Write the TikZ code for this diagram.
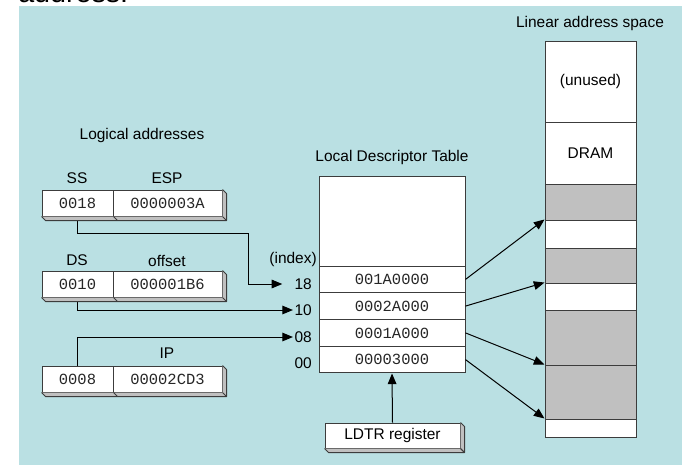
\documentclass[tikz,border=0pt]{standalone}
\usepackage{fontspec}
\setmainfont{Liberation Sans}
\newfontfamily\monofont{Liberation Mono}
\usetikzlibrary{arrows.meta}
\definecolor{bgblue}{RGB}{186,224,227}
\definecolor{segfill}{RGB}{192,192,192}
\definecolor{edgec}{RGB}{60,60,60}
\pgfdeclarelayer{bglayer}
\pgfdeclarelayer{wires}
\pgfsetlayers{bglayer,wires,main}
\newcommand\bevelbox[2]{%
  \fill[segfill] (#1.south west) -- ([shift={(4,4)}]#1.south west) -- ([shift={(4,4)}]#2.south east) -- ([shift={(4,4)}]#2.north east) -- (#2.north east) -- (#2.south east) -- cycle;
  \draw[edgec, line width=0.75pt, line join=round] (#1.south west) -- ([shift={(4,4)}]#1.south west) -- ([shift={(4,4)}]#2.south east) -- ([shift={(4,4)}]#2.north east) -- (#2.north east);
  \draw[edgec, line width=0.6pt] ([shift={(4,4)}]#2.south east) -- (#2.south east);
  \draw[edgec, line width=0.6pt] (#1.south east) -- ([shift={(4,4)}]#1.south east);
}
\begin{document}
\begin{tikzpicture}[x=0.75pt,y=-0.75pt,
  font=\fontsize{11.6}{13}\selectfont,
  cell/.style={draw=edgec, fill=white, line width=0.75pt, minimum height=19.5pt, inner sep=0pt, text=black!85,
    font=\monofont\fontsize{11.6}{13}\selectfont},
  lbl/.style={inner sep=0pt},
  ldtrow/.style={draw=edgec, fill=white, line width=0.75pt, minimum width=109.5pt, minimum height=20.06pt, inner sep=0pt, text=black!85,
    font=\monofont\fontsize{11.6}{13}\selectfont},
  seg/.style={draw=edgec, line width=0.75pt, minimum width=68.25pt, inner sep=0pt},
  arr/.style={-{Triangle[length=8pt,width=6.5pt]}, line width=0.75pt}]
\useasboundingbox (0,0) rectangle (682,465);
\clip (0,0) rectangle (682,465);
\begin{pgfonlayer}{bglayer}
  \fill[bgblue] (19,6) rectangle (682,465);
\end{pgfonlayer}
\node[anchor=base west, inner sep=0pt, font=\fontsize{21.5}{24}\selectfont] (frag) at (18,2) {address.};

% titles
\node[lbl] (tlin) at (590,23) {Linear address space};
\node[lbl] (tlog) at (142,135) {Logical addresses};
\node[lbl] (tldt) at (392,157) {Local Descriptor Table};

% registers
\node[cell, minimum width=53.25pt] (ssv) at (77.5,203) {0018};
\node[cell, minimum width=81.75pt] (espv) at (167.5,203) {0000003A};
\bevelbox{ssv}{espv}
\node[lbl] (ssl) at (77,178) {SS};
\node[lbl] (espl) at (167,178) {ESP};

\node[cell, minimum width=53.25pt] (dsv) at (77.5,284) {0010};
\node[cell, minimum width=81.75pt] (offv) at (167.5,284) {000001B6};
\bevelbox{dsv}{offv}
\node[lbl] (dsl) at (77,260) {DS};
\node[lbl] (offl) at (167,261) {offset};

\node[cell, minimum width=53.25pt] (ipv) at (77.5,379) {0008};
\node[cell, minimum width=81.75pt] (ipo) at (167.5,379) {00002CD3};
\bevelbox{ipv}{ipo}
\node[lbl] (ipl) at (167,353) {IP};

% LDT
\node[draw=edgec, fill=white, line width=0.75pt, minimum width=109.5pt, minimum height=67.5pt, inner sep=0pt] (ldt) at (392,221) {};
\node[ldtrow] (r18) at (392,279.4) {001A0000};
\node[ldtrow] (r10) at (392,306.1) {0002A000};
\node[ldtrow] (r08) at (392,332.9) {0001A000};
\node[ldtrow] (r00) at (392,359.6) {00003000};
\node[lbl, anchor=east] (idx) at (317,259) {(index)};
\node[lbl, anchor=east] (i18) at (312,284) {18};
\node[lbl, anchor=east] (i10) at (312,310) {10};
\node[lbl, anchor=east] (i08) at (312,337) {08};
\node[lbl, anchor=east] (i00) at (312,363) {00};

% LDTR
\node[draw=edgec, fill=white, line width=0.75pt, minimum width=101.25pt, minimum height=18.75pt, inner sep=0pt] (ldtr) at (392.5,435.5) {LDTR register};
\bevelbox{ldtr}{ldtr}

% linear address space
\node[seg, fill=white, minimum height=60.75pt] (unused) at (590.5,81.5) {(unused)};
\node[seg, fill=white, minimum height=46.5pt] (dram) at (590.5,153) {DRAM};
\node[seg, fill=segfill, minimum height=27pt] (g1) at (590.5,202) {};
\node[seg, fill=white, minimum height=21pt] (w1) at (590.5,234) {};
\node[seg, fill=segfill, minimum height=26.25pt] (g2) at (590.5,265.5) {};
\node[seg, fill=white, minimum height=20.25pt] (w2) at (590.5,296.5) {};
\node[seg, fill=segfill, minimum height=41.25pt] (g3) at (590.5,337.5) {};
\node[seg, fill=segfill, minimum height=40.5pt] (g4) at (590.5,392) {};
\node[seg, fill=white, minimum height=13.5pt] (w3) at (590.5,428) {};

% connectors
\coordinate (bend1) at (248,233);
\begin{pgfonlayer}{wires}
  \draw[arr, shorten >=9pt] (ssv.south) |- (bend1) |- (i18.west);
  \draw[arr, shorten >=1pt] (dsv.south) |- (i10.west);
  \draw[arr, shorten >=1pt] (ipv.north) |- (i08.west);
\end{pgfonlayer}
\draw[arr] (ldtr.north) -- (r00.south);
\draw[arr] (r18.east) -- (w1.north west);
\draw[arr] (r10.east) -- (w2.north west);
\draw[arr] (r08.east) -- (g4.north west);
\draw[arr] (r00.east) -- (w3.north west);
\end{tikzpicture}
\end{document}
